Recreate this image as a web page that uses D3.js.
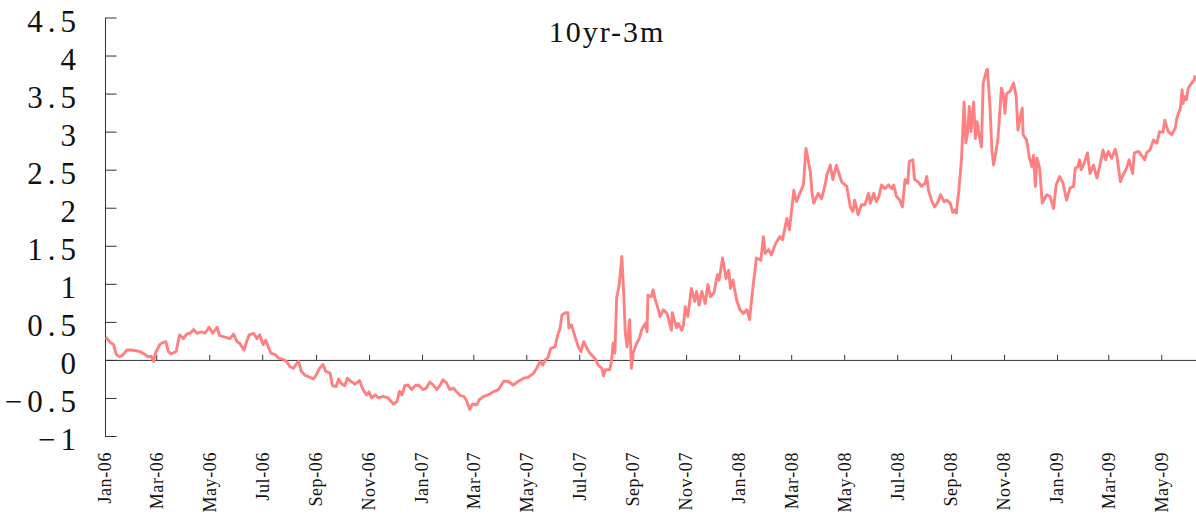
<!DOCTYPE html>
<html><head><meta charset="utf-8">
<script src="https://cdn.jsdelivr.net/npm/d3@7"></script>
<style>body{margin:0;background:#fff}svg{display:block}</style>
</head><body><svg id="c" width="1196" height="518"></svg>
<script>
const title = "10yr-3m";
const yTicks = [-1,-0.5,0,0.5,1,1.5,2,2.5,3,3.5,4,4.5];
const xTickDates = ["2006-01-01","2006-03-01","2006-05-01","2006-07-01","2006-09-01","2006-11-01",
  "2007-01-01","2007-03-01","2007-05-01","2007-07-01","2007-09-01","2007-11-01",
  "2008-01-01","2008-03-01","2008-05-01","2008-07-01","2008-09-01","2008-11-01",
  "2009-01-01","2009-03-01","2009-05-01"];
const xDomain = ["2006-01-01","2009-06-10"];

const dates2006 = ["01-02","01-07","01-11","01-14","01-18","01-22","01-26","01-31","02-06","02-10","02-16","02-20","02-23","02-26","02-28","03-05","03-09","03-12","03-15","03-18","03-24","03-26","03-28","04-01","04-05","04-09","04-13","04-17","04-22","04-26","05-01","05-05","05-10","05-13","05-19","05-25","05-29","06-02","06-05","06-10","06-13","06-16","06-21","06-25","06-28","07-02","07-05","07-08","07-11","07-16","07-20","07-25","07-29","08-02","08-06","08-10","08-12","08-15","08-19","08-25","08-29","08-31","09-05","09-09","09-12","09-17","09-20","09-24","09-27","09-30","10-04","10-07","10-11","10-16","10-21","10-25","10-29","11-01","11-04","11-08","11-12","11-17","11-23","11-29","12-03","12-06","12-09","12-12","12-16","12-20","12-24","12-28"];
const values2006 = [0.30,0.23,0.20,0.07,0.04,0.07,0.13,0.13,0.12,0.11,0.07,0.04,0.05,-0.02,0.09,0.20,0.23,0.24,0.11,0.08,0.11,0.23,0.33,0.28,0.34,0.35,0.40,0.35,0.37,0.35,0.43,0.35,0.43,0.32,0.30,0.28,0.34,0.24,0.22,0.13,0.24,0.33,0.35,0.28,0.33,0.20,0.26,0.17,0.09,0.07,0.02,0.01,-0.02,-0.09,-0.11,-0.04,-0.02,-0.15,-0.20,-0.23,-0.25,-0.22,-0.11,-0.06,-0.15,-0.17,-0.34,-0.35,-0.25,-0.31,-0.34,-0.24,-0.28,-0.32,-0.27,-0.39,-0.46,-0.42,-0.50,-0.46,-0.50,-0.48,-0.50,-0.58,-0.55,-0.41,-0.46,-0.34,-0.33,-0.39,-0.34,-0.33];

const dates2007 = ["01-02","01-06","01-10","01-14","01-18","01-22","01-25","01-29","02-02","02-06","02-10","02-14","02-18","02-21","02-23","02-25","02-28","03-05","03-08","03-13","03-18","03-24","03-30","04-05","04-10","04-16","04-22","04-28","05-03","05-09","05-13","05-17","05-20","05-23","05-26","05-29","06-03","06-06","06-09","06-11","06-15","06-18","06-19","06-22","06-26","06-30","07-03","07-06","07-10","07-13","07-19","07-23","07-27","07-29","07-31","08-05","08-07","08-09","08-11","08-13","08-16","08-19","08-21","08-23","08-25","08-28","08-30","09-01","09-05","09-08","09-11","09-15","09-17","09-18","09-22","09-24","09-26","09-30","10-02","10-06","10-10","10-15","10-16","10-21","10-23","10-27","10-29","10-31","11-03","11-07","11-11","11-13","11-16","11-19","11-23","11-26","11-29","12-03","12-07","12-09","12-13","12-17","12-20","12-22","12-25","12-29"];
const values2007 = [-0.39,-0.37,-0.29,-0.33,-0.39,-0.33,-0.26,-0.30,-0.39,-0.37,-0.42,-0.47,-0.48,-0.53,-0.59,-0.65,-0.58,-0.59,-0.52,-0.48,-0.46,-0.42,-0.39,-0.28,-0.28,-0.33,-0.28,-0.24,-0.23,-0.18,-0.11,-0.02,-0.07,0.00,0.03,0.15,0.17,0.32,0.42,0.59,0.62,0.62,0.42,0.46,0.31,0.17,0.11,0.24,0.15,0.09,0.02,-0.07,-0.11,-0.21,-0.13,-0.13,-0.02,0.22,0.09,0.81,0.99,1.36,0.92,0.35,0.17,0.53,-0.11,0.09,0.22,0.28,0.40,0.48,0.37,0.85,0.83,0.92,0.81,0.66,0.57,0.66,0.61,0.39,0.62,0.42,0.48,0.39,0.46,0.70,0.57,0.94,0.77,0.90,0.72,0.90,0.74,0.99,0.83,0.88,1.12,1.05,1.34,1.07,1.18,0.94,1.05,0.79];

const dates2008 = ["01-02","01-06","01-10","01-13","01-17","01-21","01-26","01-29","01-31","02-04","02-07","02-12","02-17","02-20","02-25","02-28","03-01","03-04","03-07","03-11","03-15","03-18","03-23","03-25","03-27","04-01","04-05","04-09","04-11","04-15","04-18","04-22","04-25","04-28","05-04","05-08","05-11","05-13","05-17","05-21","05-25","05-29","05-31","06-04","06-07","06-10","06-13","06-17","06-21","06-25","06-27","06-30","07-04","07-07","07-10","07-13","07-15","07-19","07-21","07-25","07-29","08-02","08-04","08-06","08-10","08-13","08-17","08-20","08-24","08-27","08-31","09-03","09-06","09-07","09-10","09-13","09-16","09-18","09-20","09-22","09-24","09-27","09-29","10-01","10-03","10-06","10-08","10-12","10-13","10-16","10-18","10-20","10-23","10-25","10-29","10-31","11-02","11-04","11-08","11-12","11-15","11-17","11-20","11-22","11-23","11-27","11-30","12-03","12-05","12-07","12-09","12-12","12-15","12-20","12-24","12-28","12-31"];
const values2008 = [0.66,0.61,0.66,0.53,0.96,1.34,1.31,1.62,1.40,1.45,1.38,1.53,1.62,1.58,1.86,1.71,1.93,2.23,2.08,2.19,2.30,2.78,2.47,2.19,2.06,2.19,2.12,2.30,2.43,2.56,2.37,2.56,2.45,2.34,2.28,2.01,1.95,2.10,1.91,2.04,2.04,2.19,2.06,2.19,2.08,2.15,2.30,2.25,2.30,2.25,2.30,2.15,2.10,2.01,2.37,2.32,2.61,2.63,2.37,2.34,2.28,2.32,2.41,2.23,2.08,2.01,2.08,2.17,2.08,2.10,2.06,1.94,1.97,1.93,2.23,2.63,3.39,2.85,2.98,3.33,3.00,3.39,2.91,3.13,2.98,2.80,3.64,3.81,3.82,3.29,2.76,2.56,2.76,2.91,3.57,3.50,3.24,3.50,3.53,3.64,3.46,3.02,3.20,3.31,2.96,2.89,2.67,2.54,2.69,2.28,2.65,2.52,2.06,2.17,2.15,1.99,2.30];

const dates2009 = ["01-04","01-08","01-12","01-16","01-20","01-22","01-25","01-27","01-29","02-02","02-05","02-08","02-12","02-16","02-19","02-23","02-26","03-01","03-05","03-09","03-11","03-15","03-18","03-22","03-25","03-29","03-31","04-05","04-08","04-12","04-14","04-18","04-22","04-26","04-29","05-03","05-05","05-09","05-13","05-17","05-19","05-23","05-25","05-26","05-28","05-30","06-01","06-05","06-08","06-09"];
const values2009 = [2.41,2.32,2.10,2.26,2.28,2.52,2.54,2.63,2.50,2.61,2.72,2.45,2.56,2.39,2.54,2.76,2.63,2.74,2.65,2.77,2.67,2.34,2.43,2.52,2.63,2.45,2.72,2.74,2.69,2.63,2.72,2.76,2.89,2.85,3.00,2.99,3.15,3.00,2.96,3.04,3.18,3.31,3.55,3.37,3.46,3.42,3.57,3.64,3.68,3.74];

const parse = d3.utcParse("%Y-%m-%d");
const data = [];
[["2006",dates2006,values2006],["2007",dates2007,values2007],["2008",dates2008,values2008],["2009",dates2009,values2009]]
  .forEach(([yr, ds, vs]) => ds.forEach((d, i) => data.push({date: parse(yr + "-" + d), v: vs[i]})));

const svg = d3.select("#c");
const font = "'Liberation Serif', 'DejaVu Serif', serif";
const x = d3.scaleUtc().domain(xDomain.map(parse)).range([105, 1196]);
const y = d3.scaleLinear().domain([-1, 4.5]).range([436, 17.5]);

// Y axis
const yAxis = svg.append("g").attr("transform", "translate(105,0)")
  .call(d3.axisLeft(y).tickValues(yTicks).tickSize(-11.5).tickSizeOuter(0).tickPadding(24)
    .tickFormat(d => d3.format("")(d)));
yAxis.select(".domain").attr("stroke", "#333");
yAxis.selectAll(".tick line").attr("stroke", "#333");
yAxis.selectAll(".tick text").attr("font-family", font).attr("font-size", 31)
  .attr("letter-spacing", "5px").attr("fill", "#111").attr("dy", "0.45em");

// X axis at zero
const xAxis = svg.append("g").attr("transform", `translate(0,${y(0)})`)
  .call(d3.axisTop(x).tickValues(xTickDates.map(parse)).tickSize(5).tickSizeOuter(0).tickFormat(""));
xAxis.select(".domain").attr("stroke", "#333");
xAxis.selectAll(".tick line").attr("stroke", "#333");

// X labels at bottom
const fmt = d3.utcFormat("%b-%y");
svg.append("g").selectAll("text").data(xTickDates.map(parse)).join("text")
  .attr("transform", d => `translate(${x(d)},452) rotate(-90)`)
  .attr("text-anchor", "end").attr("dy", "0.35em")
  .attr("font-family", font).attr("font-size", 18).attr("letter-spacing", "0.6px")
  .attr("fill", "#111").text(fmt);

// Line
svg.append("path").datum(data)
  .attr("fill", "none").attr("stroke", "#ff8080").attr("stroke-width", 2.9)
  .attr("stroke-linejoin", "round")
  .attr("d", d3.line().x(d => x(d.date)).y(d => y(d.v)));

// Title
svg.append("text").attr("x", 607).attr("y", 42).attr("text-anchor", "middle")
  .attr("font-family", font).attr("font-size", 30).attr("letter-spacing", "2px")
  .attr("fill", "#111").text(title);
</script></body></html>
